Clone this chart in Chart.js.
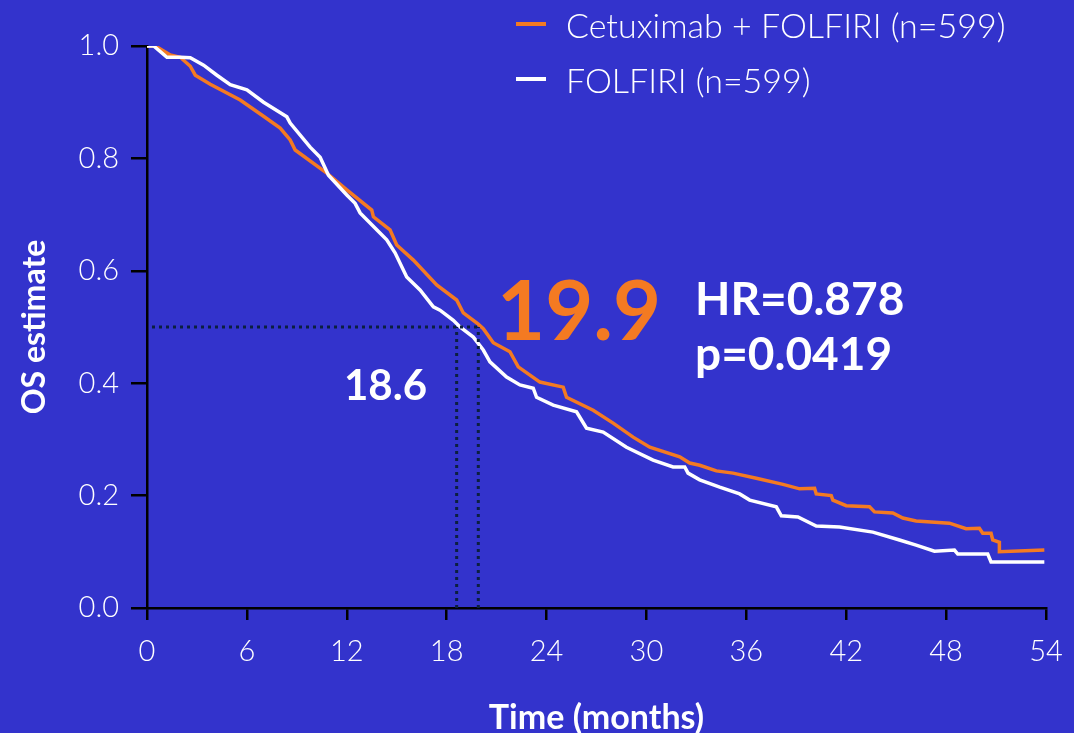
<!DOCTYPE html>
<html>
<head>
<meta charset="utf-8">
<script src="https://cdn.jsdelivr.net/npm/chart.js@4.4.1/dist/chart.umd.min.js"></script>
<style>
    html, body { margin: 0; padding: 0; background: #3333CC; }
    #wrap { width: 1074px; height: 733px; position: relative; }
</style>
</head>
<body>
<div id="wrap"><canvas id="chart"></canvas></div>
<script>
// Cetuximab + FOLFIRI (orange)
const cetuxMonths = [0, 0.5, 1.4, 2.0, 2.6, 2.9, 3.8, 5.6, 7.0, 8.0, 8.6, 8.9, 10.8, 12.0, 13.5, 13.6, 14.6, 15.0, 16.0, 17.4, 18.6, 19.0, 19.9, 20.2, 20.8, 21.8, 22.3, 23.6, 25.0, 25.2, 26.8, 28.0, 29.2, 30.2, 32.0, 32.6, 33.2, 34.2, 35.2, 36.6, 38.2, 39.2, 40.1, 40.2, 41.1, 41.2, 42.0, 43.4, 43.7, 44.8, 45.4, 46.2, 48.2, 49.2, 50.0, 50.2, 50.7, 50.8, 51.2, 51.2, 53.9];
const cetuxOS = [1.0, 1.0, 0.984, 0.98, 0.964, 0.948, 0.932, 0.904, 0.875, 0.854, 0.833, 0.815, 0.774, 0.744, 0.708, 0.696, 0.673, 0.646, 0.619, 0.575, 0.548, 0.525, 0.505, 0.497, 0.472, 0.456, 0.429, 0.402, 0.393, 0.375, 0.352, 0.329, 0.304, 0.286, 0.269, 0.258, 0.254, 0.244, 0.240, 0.231, 0.220, 0.212, 0.213, 0.203, 0.200, 0.192, 0.182, 0.180, 0.171, 0.169, 0.160, 0.155, 0.151, 0.141, 0.142, 0.133, 0.133, 0.121, 0.117, 0.100, 0.103];

// FOLFIRI (white)
const folfiriMonths = [0, 0.4, 1.2, 2.0, 2.6, 3.4, 4.2, 5.0, 6.0, 7.0, 8.4, 8.6, 9.8, 10.4, 10.9, 12.0, 12.5, 12.8, 13.8, 14.4, 14.9, 15.6, 16.4, 17.2, 17.6, 18.4, 18.8, 19.6, 20.2, 20.6, 21.6, 22.4, 23.2, 23.4, 24.4, 25.8, 26.4, 27.4, 28.8, 30.4, 31.6, 32.3, 32.5, 33.2, 34.4, 35.6, 36.2, 37.8, 38.1, 39.1, 40.2, 41.6, 43.6, 45.2, 46.2, 47.3, 48.5, 48.7, 50.5, 50.7, 53.9];
const folfiriOS = [1.0, 1.0, 0.98, 0.98, 0.979, 0.966, 0.948, 0.931, 0.922, 0.900, 0.874, 0.863, 0.820, 0.802, 0.770, 0.735, 0.720, 0.703, 0.673, 0.655, 0.632, 0.589, 0.566, 0.536, 0.530, 0.512, 0.500, 0.482, 0.459, 0.438, 0.411, 0.397, 0.391, 0.375, 0.361, 0.349, 0.320, 0.313, 0.286, 0.263, 0.251, 0.251, 0.240, 0.228, 0.215, 0.203, 0.192, 0.180, 0.164, 0.162, 0.146, 0.144, 0.135, 0.121, 0.112, 0.101, 0.103, 0.096, 0.096, 0.082, 0.082];

const seriesLabels = ["Cetuximab + FOLFIRI (n=599)", "FOLFIRI (n=599)"];
const medianCetux = 19.9;
const medianFolfiri = 18.6;
const xTicks = [0, 6, 12, 18, 24, 30, 36, 42, 48, 54];
const yTicks = [0, 0.2, 0.4, 0.6, 0.8, 1.0];

const ORANGE = "#F47A22";
const WHITE = "#FFFFFF";
const DOTS = "#0B1F3F";
const BG = "#3333CC";

function toXY(xs, ys) {
    let data = [];
    for (let i = 0; i < xs.length; i++) {
        data.push({x: xs[i], y: ys[i]});
    }
    return data;
}

const bgPlugin = {
    id: "bg",
    beforeDraw(chart) {
        const c = chart.ctx;
        c.save();
        c.fillStyle = BG;
        c.fillRect(0, 0, chart.width, chart.height);
        c.restore();
    }
};

const textPlugin = {
    id: "texts",
    afterDraw(chart) {
        const c = chart.ctx;
        c.save();
        // legend
        c.lineWidth = 4;
        c.strokeStyle = ORANGE;
        c.beginPath(); c.moveTo(516, 24); c.lineTo(546, 24); c.stroke();
        c.strokeStyle = WHITE;
        c.beginPath(); c.moveTo(516, 79); c.lineTo(546, 79); c.stroke();
        c.fillStyle = WHITE;
        c.font = "300 34px Lato";
        c.textBaseline = "alphabetic";
        c.textAlign = "left";
        c.fillText(seriesLabels[0], 566, 38);
        c.fillText(seriesLabels[1], 566, 93);

        // medians and stats
        c.fillStyle = ORANGE;
        c.font = "bold 83px Lato";
        c.fillText(medianCetux.toFixed(1), 497, 340);
        c.fillStyle = WHITE;
        c.font = "bold 42px Lato";
        c.fillText(medianFolfiri.toFixed(1), 344, 400);
        c.font = "bold 46px Lato";
        c.fillText("HR=0.878", 695, 315);
        c.fillText("p=0.0419", 695, 370);
        c.restore();
    }
};

const dotted = {borderColor: DOTS, borderWidth: 3, borderDash: [3, 4], pointRadius: 0, fill: false, tension: 0};

const config = {
    type: "line",
    data: {
        datasets: [
            Object.assign({data: [{x: 0.3, y: 0.5}, {x: medianCetux, y: 0.5}]}, dotted),
            Object.assign({data: [{x: medianFolfiri, y: 0}, {x: medianFolfiri, y: 0.5}]}, dotted),
            Object.assign({data: [{x: medianCetux, y: 0}, {x: medianCetux, y: 0.5}]}, dotted),
            {
                label: seriesLabels[1],
                data: toXY(folfiriMonths, folfiriOS),
                borderColor: WHITE,
                borderWidth: 3.5,
                pointRadius: 0,
                tension: 0,
                fill: false
            },
            {
                label: seriesLabels[0],
                data: toXY(cetuxMonths, cetuxOS),
                borderColor: ORANGE,
                borderWidth: 3.5,
                pointRadius: 0,
                tension: 0,
                fill: false
            }
        ]
    },
    options: {
        animation: false,
        responsive: true,
        maintainAspectRatio: false,
        plugins: {
            legend: {display: false},
            tooltip: {enabled: false}
        },
        layout: {
            padding: {left: 0, top: 46, right: 28, bottom: 0}
        },
        scales: {
            x: {
                type: "linear",
                min: 0,
                max: 54,
                afterBuildTicks: (scale) => { scale.ticks = xTicks.map(v => ({value: v})); },
                afterFit: (scale) => { scale.height = 125; scale.paddingRight = 0; scale.paddingLeft = 0; },
                border: {color: "#000", width: 2.5},
                grid: {drawOnChartArea: false, drawTicks: true, tickLength: 12, color: "#000", lineWidth: 2.5},
                ticks: {color: WHITE, padding: 14, font: {family: "Lato", weight: "300", size: 29}, maxRotation: 0},
                title: {display: true, text: "Time (months)", color: WHITE, font: {family: "Lato", weight: "bold", size: 34}, padding: {top: 0, bottom: -5}}
            },
            y: {
                min: 0,
                max: 1,
                afterBuildTicks: (scale) => { scale.ticks = yTicks.map(v => ({value: v})); },
                afterFit: (scale) => { scale.width = 147; },
                border: {color: "#000", width: 2.5},
                grid: {drawOnChartArea: false, drawTicks: true, tickLength: 16, color: "#000", lineWidth: 2.5},
                ticks: {color: WHITE, padding: 12, font: {family: "Lato", weight: "300", size: 29}, callback: (v) => v.toFixed(1)},
                title: {display: true, text: "OS estimate", color: WHITE, font: {family: "Lato", weight: "bold", size: 32}, padding: {top: 15, bottom: 0}}
            }
        }
    },
    plugins: [bgPlugin, textPlugin]
};

new Chart(document.getElementById("chart"), config);
</script>
</body>
</html>
